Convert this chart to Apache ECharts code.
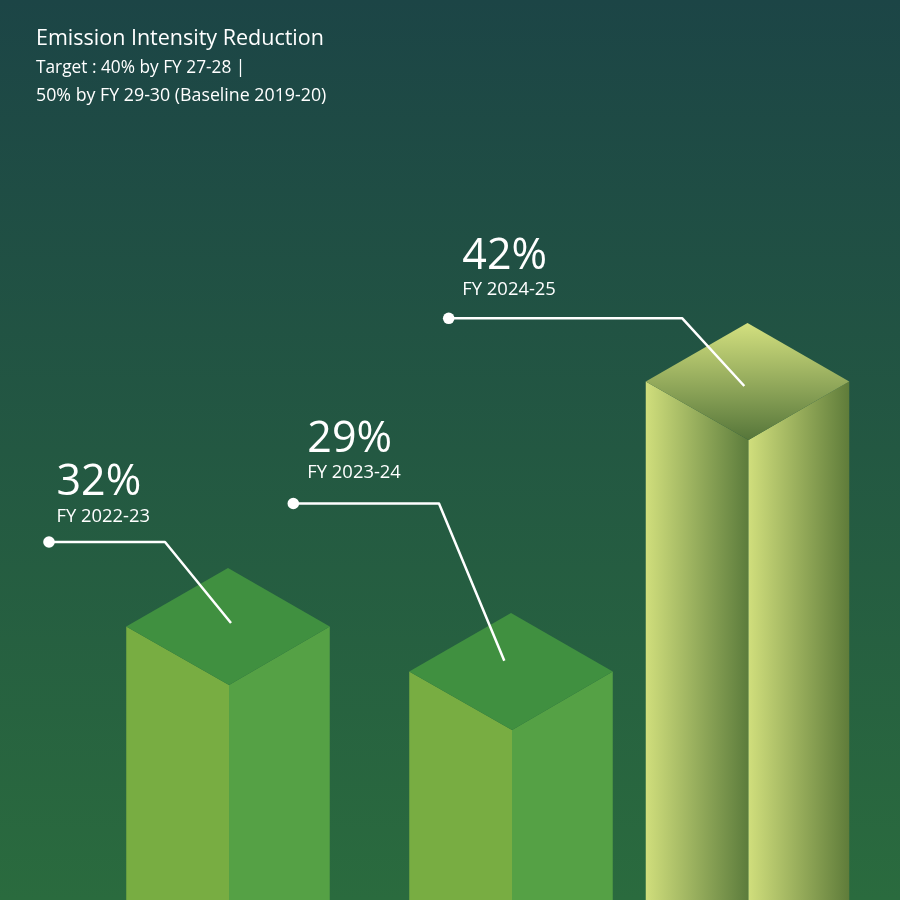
<!DOCTYPE html>
<html><head><meta charset="utf-8">
<style>html,body{margin:0;padding:0;background:#1c4546}#c{width:900px;height:900px}</style>
<script src="https://cdn.jsdelivr.net/npm/echarts@6/dist/echarts.min.js"></script>
</head><body><div id="c"></div>
<script>
// ---- data ----
const categories = ['FY 2022-23', 'FY 2023-24', 'FY 2024-25'];
const reductionPercent = [32, 29, 42];
// The artwork's column heights are not proportional to the percentages,
// so the height of each column's front edge is read separately.
const columnHeights = [215, 170, 460];
const titleText = 'Emission Intensity Reduction';
const subtitleLines = ['Target : 40% by FY 27-28 |', '50% by FY 29-30 (Baseline 2019-20)'];

// ---- layout and style ----
const FONT = '"Open Sans", "Noto Sans", sans-serif';
const columnNudge = [0.5, 24, 1];
const FRONT_SKEW = 1;
const WIDTH_RATIO = 203.5 / 259.5, DEPTH_RATIO = 58.5 / 101.75;
const PCT_TOP_SHIFT = -33.5, FY_TOP_SHIFT = 12.5;
const leaders = [
  {dot: [-179, -143], knee: [-63, -143], end: [3, -62], text: [-171.5, -190]},
  {dot: [-217.7, -226.5], knee: [-72, -226.5], end: [-6.7, -69.3], text: [-203.7, -278.3]},
  {dot: [-298.8, -121.7], knee: [-65.2, -121.7], end: [-3.2, -54], text: [-285.2, -171.7]}
];
const hGrad = (a, b) => new echarts.graphic.LinearGradient(0, 0, 1, 0, [{offset: 0, color: a}, {offset: 1, color: b}]);
const vGrad = (a, b) => new echarts.graphic.LinearGradient(0, 0, 0, 1, [{offset: 0, color: a}, {offset: 1, color: b}]);
const green = {left: '#78ad42', right: '#55a145', top: '#409040'};
const faceStyles = [green, green, {
  left: hGrad('#d0de7c', '#5c7c3c'),
  right: hGrad('#d0de7c', '#5f7c3a'),
  top: vGrad('#d3e07f', '#56763a')
}];

function renderColumn(params, api) {
  const i = api.value(0);
  const c = api.coord([i, api.value(1)]);
  const base = api.coord([i, 0]);
  const band = api.size([1, 0])[0];
  const half = band * WIDTH_RATIO / 2, depth = half * DEPTH_RATIO;
  const x = c[0] + columnNudge[i], y = c[1], by = base[1], fx = x + FRONT_SKEW;
  const s = faceStyles[i], L = leaders[i];
  const P = p => [x + p[0], y + p[1]];
  const poly = (points, fill) => ({type: 'polygon', shape: {points}, style: {fill}});
  return {type: 'group', children: [
    poly([[x - half, y - depth], [fx, y], [fx, by], [x - half, by]], s.left),
    poly([[fx, y], [x + half, y - depth], [x + half, by], [fx, by]], s.right),
    poly([[x - half, y - depth], [x, y - 2 * depth], [x + half, y - depth], [fx, y]], s.top),
    {type: 'polyline', shape: {points: [P(L.dot), P(L.knee), P(L.end)]},
      style: {stroke: '#fff', lineWidth: 2.5, fill: null, lineJoin: 'round'}},
    {type: 'circle', shape: {cx: P(L.dot)[0], cy: P(L.dot)[1], r: 5.8}, style: {fill: '#fff'}},
    {type: 'text', x: P(L.text)[0], y: P(L.text)[1] + PCT_TOP_SHIFT,
      style: {text: reductionPercent[i] + '%', fill: '#fff', font: '400 43px ' + FONT, textBaseline: 'top', textAlign: 'left'}},
    {type: 'text', x: P(L.text)[0], y: P(L.text)[1] + FY_TOP_SHIFT,
      style: {text: categories[i], fill: '#fff', font: '400 18.4px ' + FONT, textBaseline: 'top', textAlign: 'left'}}
  ]};
}

const chart = echarts.init(document.getElementById('c'), null, {renderer: 'canvas'});
chart.setOption({
  animation: false,
  backgroundColor: vGrad('#1c4546', '#2a6b3e'),
  title: [
    {text: titleText, left: 31, top: 23, textStyle: {color: '#fff', fontFamily: FONT, fontWeight: 400, fontSize: 21.5}},
    {text: subtitleLines[0], left: 31, top: 55, textStyle: {color: '#fff', fontFamily: FONT, fontWeight: 400, fontSize: 17.3}},
    {text: subtitleLines[1], left: 31, top: 82, textStyle: {color: '#fff', fontFamily: FONT, fontWeight: 400, fontSize: 17.8}}
  ],
  grid: {left: 97.75, width: 778.5, top: 0, bottom: 0},
  xAxis: {type: 'category', data: categories, show: false},
  yAxis: {type: 'value', min: 0, max: 900, show: false},
  series: [{
    type: 'custom',
    renderItem: renderColumn,
    clip: false,
    silent: true,
    encode: {x: 0, y: 1},
    data: categories.map((_, i) => [i, columnHeights[i], reductionPercent[i]])
  }]
});
</script></body></html>
